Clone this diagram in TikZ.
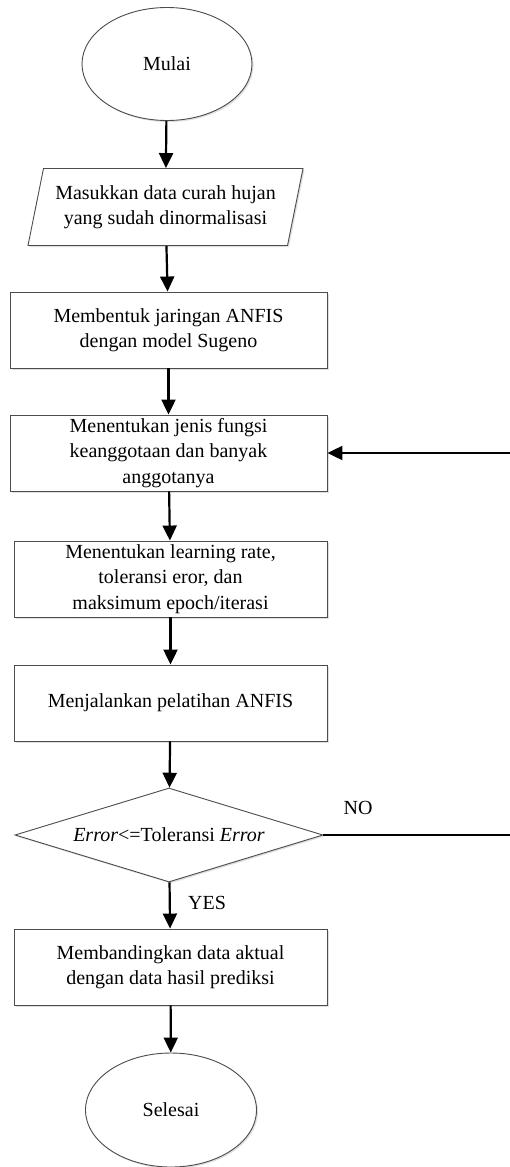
\documentclass[tikz,border=0pt]{standalone}
\usepackage{fontspec}
\setmainfont{Liberation Serif}
\usetikzlibrary{shapes.geometric,arrows.meta,positioning,shadows}

\begin{document}
\begin{tikzpicture}[
    x=1pt, y=-1pt,
    base/.style={draw=black!70, line width=0.9pt, fill=white, align=center, inner sep=2pt,
        font=\fontsize{20}{25.5}\selectfont,
        drop shadow={shadow xshift=1.5pt, shadow yshift=-1.5pt, opacity=0.25}},
    terminal/.style={base, ellipse, minimum width=170pt, minimum height=113pt},
    io/.style={base, trapezium, trapezium left angle=72, trapezium right angle=108,
        trapezium stretches body, minimum width=275pt, minimum height=77pt},
    process/.style={base, rectangle, minimum width=313pt, minimum height=76pt},
    decision/.style={base, diamond, aspect=3.3, inner sep=0pt, minimum width=308pt, minimum height=94pt},
    tag/.style={font=\fontsize{20}{25.5}\selectfont},
    arrow/.style={-{Triangle[width=14pt,length=15pt]}, line width=2.2pt}
]

% Canvas
\useasboundingbox[fill=white] (0,0) rectangle (509,1167);

% Main column
\node[terminal] (start) at (167,64) {Mulai};
\node[io] (input) at (165.5,207) {Masukkan data curah hujan\\yang sudah dinormalisasi};
\node[process, minimum width=317pt] (anfis) at (168.5,330) {Membentuk jaringan ANFIS\\dengan model Sugeno};
\node[process, minimum width=317pt] (setmf) at (168.5,453) {Menentukan jenis fungsi\\keanggotaan dan banyak\\anggotanya};
\node[process] (setparam) at (170.5,579) {Menentukan learning rate,\\toleransi eror, dan\\maksimum epoch/iterasi};
\node[process] (train) at (170.5,703) {Menjalankan pelatihan ANFIS};
\node[decision] (check) at (169,835) {\textit{Error}<=Toleransi \textit{Error}};
\node[process] (compare) at (170.5,967) {Membandingkan data aktual\\dengan data hasil prediksi};
\node[terminal, minimum width=171pt, minimum height=114pt] (stop) at (171,1110) {Selesai};

% Branch labels
\node[tag] (no) at (358,808) {NO};
\node[tag] (yes) at (207,903) {YES};

% Loop back point (beyond the right edge)
\coordinate (back) at (512,835);

% Arrows
\draw[arrow] (start) -- (input);
\draw[arrow] (input) -- (anfis);
\draw[arrow] (anfis) -- (setmf);
\draw[arrow] (setmf) -- (setparam);
\draw[arrow] (setparam) -- (train);
\draw[arrow] (train) -- (check);
\draw[arrow] (check) -- (compare);
\draw[arrow] (compare) -- (stop);
\draw[arrow] (check.east) -- (back) |- (setmf.east);

\end{tikzpicture}
\end{document}
